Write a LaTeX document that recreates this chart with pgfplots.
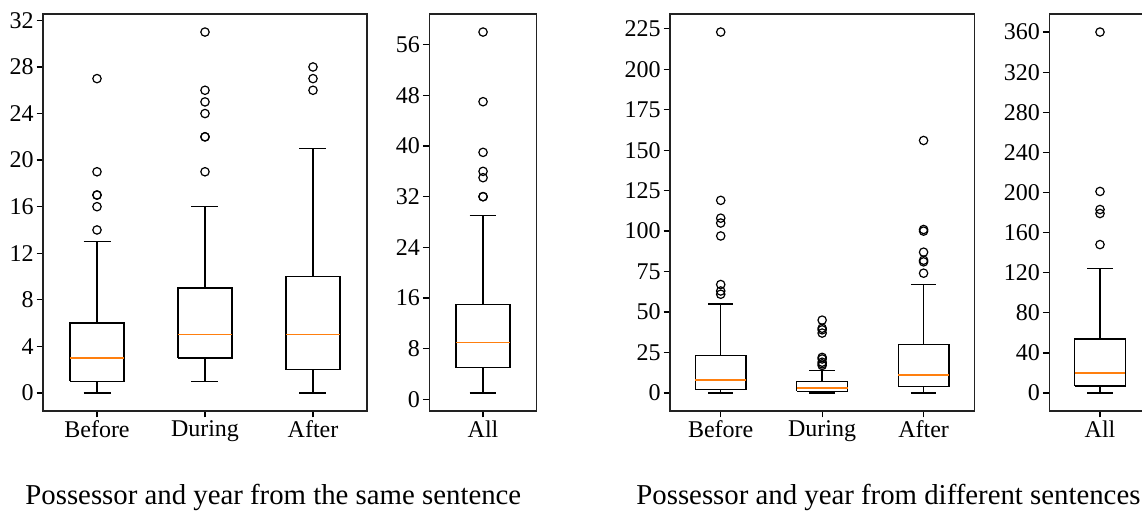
\documentclass[border=0pt]{standalone}
\usepackage{fontspec}
\setmainfont{Liberation Serif}
\usepackage{pgfplots}
\pgfplotsset{compat=1.18}
\definecolor{mplorange}{HTML}{FF7F0E}
\definecolor{framegray}{HTML}{222222}
\pgfplotsset{
  bx/.style={
    scale only axis,
    height=198.5pt,
    anchor=north west,
    tick align=outside,
    tick pos=left,
    major tick length=3.2pt,
    axis line style={framegray, line width=0.65pt},
    every tick/.style={black, line width=0.65pt},
    tick label style={font=\fontsize{12}{13}\selectfont},
    yticklabel style={inner xsep=1.3pt, /pgf/number format/fixed},
    xticklabel style={inner ysep=1.3pt},
    /pgf/number format/assume math mode=true,
    scaled y ticks=false,
  },
  boxline/.style={black, solid, line width=0.7pt, no markers, line join=miter},
  medline/.style={mplorange, solid, line width=0.75pt, no markers},
  outl/.style={black, only marks, mark=o, mark size=2.1pt, mark options={black, line width=0.6pt, solid}},
}
% box: left x, right x, Q1, median, Q3
\newcommand\bxbox[5]{%
  \addplot[boxline] coordinates {(#1,#3) (#2,#3) (#2,#5) (#1,#5) (#1,#3)};
  \addplot[medline] coordinates {(#1,#4) (#2,#4)};
}
% whiskers: centre x, cap left x, cap right x, lower whisker, Q1, Q3, upper whisker
\newcommand\bxwh[7]{%
  \addplot[boxline] coordinates {(#1,#5) (#1,#4)};
  \addplot[boxline] coordinates {(#1,#6) (#1,#7)};
  \addplot[boxline] coordinates {(#2,#4) (#3,#4)};
  \addplot[boxline] coordinates {(#2,#7) (#3,#7)};
}
\begin{document}
\begin{tikzpicture}
% ---------- Axis 1 ----------
\begin{axis}[bx, at={(21.5pt,-7pt)}, width=162pt,
  xmin=0.5, xmax=3.5, ymin=-1.55, ymax=32.55,
  xtick={1,2,3}, xticklabels={Before,During,After},
  ytick={0,4,8,12,16,20,24,28,32}]
\bxwh{1}{0.875}{1.125}{0}{1}{6}{13}
\bxbox{0.75}{1.25}{1}{3}{6}
\addplot[outl] coordinates {(1,14) (1,16) (1,17) (1,17) (1,19) (1,27)};
\bxwh{2}{1.875}{2.125}{1}{3}{9}{16}
\bxbox{1.75}{2.25}{3}{5}{9}
\addplot[outl] coordinates {(2,19) (2,22) (2,22) (2,24) (2,25) (2,26) (2,31)};
\bxwh{3}{2.875}{3.125}{0}{2}{10}{21}
\bxbox{2.75}{3.25}{2}{5}{10}
\addplot[outl] coordinates {(3,26) (3,27) (3,28)};
\end{axis}
% ---------- Axis 2 ----------
\begin{axis}[bx, at={(214.65pt,-7pt)}, width=53.75pt,
  xmin=0.5, xmax=1.5, ymin=-1.85, ymax=60.85,
  xtick={1}, xticklabels={All},
  ytick={0,8,16,24,32,40,48,56}]
\bxwh{1}{0.875}{1.125}{1}{5}{15}{29}
\bxbox{0.75}{1.25}{5}{9}{15}
\addplot[outl] coordinates {(1,32) (1,32) (1,35) (1,36) (1,39) (1,47) (1,58)};
\end{axis}
% ---------- Axis 3 ----------
\begin{axis}[bx, at={(335pt,-7pt)}, width=152.15pt,
  xmin=0.5, xmax=3.5, ymin=-11.15, ymax=234.15,
  xtick={1,2,3}, xticklabels={Before,During,After},
  ytick={0,25,50,75,100,125,150,175,200,225}]
\bxwh{1}{0.875}{1.125}{0}{2}{23}{55}
\bxbox{0.75}{1.25}{2}{8}{23}
\addplot[outl] coordinates {(1,61) (1,63) (1,67) (1,97) (1,105) (1,108) (1,119) (1,223)};
\bxwh{2}{1.875}{2.125}{0}{1}{7}{14}
\bxbox{1.75}{2.25}{1}{3}{7}
\addplot[outl] coordinates {(2,17) (2,18) (2,19) (2,21) (2,22) (2,37) (2,39) (2,40) (2,45)};
\bxwh{3}{2.875}{3.125}{0}{4}{30}{67}
\bxbox{2.75}{3.25}{4}{11}{30}
\addplot[outl] coordinates {(3,74) (3,81) (3,82) (3,87) (3,100) (3,101) (3,156)};
\end{axis}
% ---------- Axis 4 ----------
\begin{axis}[bx, at={(524.65pt,-7pt)}, width=50.7pt,
  xmin=0.5, xmax=1.5, ymin=-18, ymax=378,
  xtick={1}, xticklabels={All},
  ytick={0,40,80,120,160,200,240,280,320,360}]
\bxwh{1}{0.875}{1.125}{0}{7}{54}{124}
\bxbox{0.75}{1.25}{7}{20}{54}
\addplot[outl] coordinates {(1,148) (1,179) (1,183) (1,201) (1,360)};
\end{axis}
% ---------- Captions ----------
\node[anchor=base west, inner sep=0pt, font=\fontsize{14.4}{16}\selectfont] at (12.5pt,-252pt) {Possessor and year from the same sentence};
\node[anchor=base west, inner sep=0pt, font=\fontsize{14.4}{16}\selectfont] at (318pt,-252pt) {Possessor and year from different sentences};
\pgfresetboundingbox
\useasboundingbox (0,0) rectangle (571pt,-255pt);
\end{tikzpicture}
\end{document}
